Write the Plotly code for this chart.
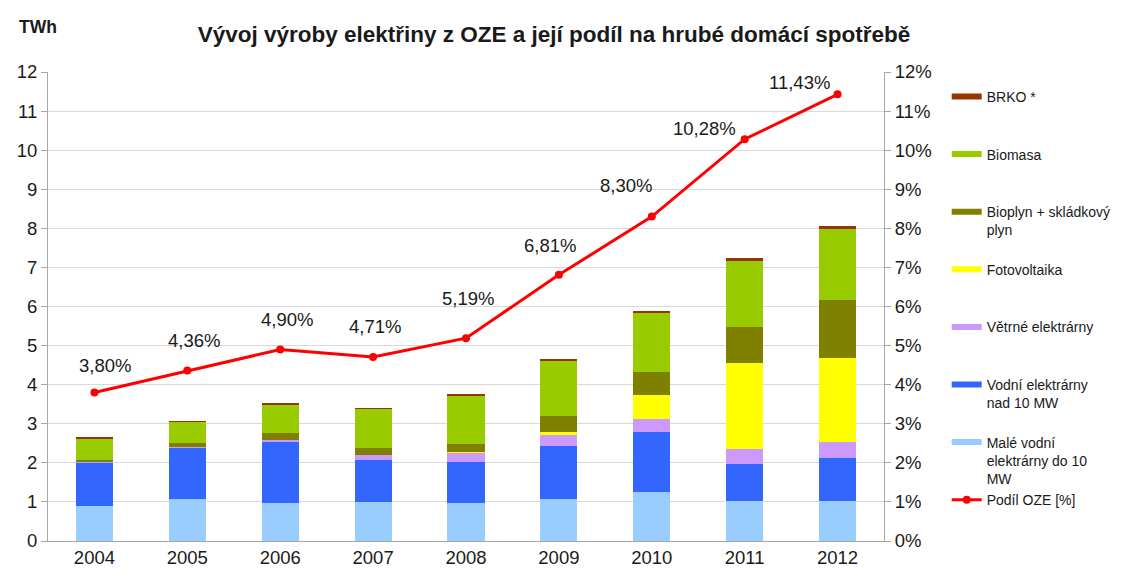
import plotly.graph_objects as go

# ---------------------------------------------------------------------------
# Data (TWh)
# ---------------------------------------------------------------------------
years = ["2004", "2005", "2006", "2007", "2008", "2009", "2010", "2011", "2012"]

male_vodni = [0.90, 1.07, 0.96, 1.00, 0.96, 1.07, 1.25, 1.02, 1.03]
vodni_nad10 = [1.12, 1.32, 1.58, 1.07, 1.06, 1.36, 1.53, 0.95, 1.10]
vetrne = [0.01, 0.02, 0.05, 0.13, 0.25, 0.27, 0.34, 0.38, 0.40]
fotovoltaika = [0.00, 0.00, 0.00, 0.00, 0.01, 0.09, 0.62, 2.20, 2.16]
bioplyn = [0.05, 0.09, 0.18, 0.18, 0.21, 0.41, 0.59, 0.93, 1.47]
biomasa = [0.55, 0.56, 0.73, 1.00, 1.24, 1.43, 1.51, 1.68, 1.82]
brko = [0.01, 0.01, 0.01, 0.01, 0.01, 0.02, 0.05, 0.08, 0.08]

podil_oze = [3.80, 4.36, 4.90, 4.71, 5.19, 6.81, 8.30, 10.28, 11.43]

# label offsets (px) for the percentage labels, as placed in the original
label_dx = [11, 7, 7, 2, 2, -9, -26, -40, -38]
label_dy = [27, 30, 30, 30, 40, 29, 31, 11, 12]

FONT = "Liberation Sans, Arial, sans-serif"
TXT = "#1a1a1a"

series = [
    ("Malé vodní<br>elektrárny do 10<br>MW", male_vodni, "#99CCFF"),
    ("Vodní elektrárny<br>nad 10 MW<br> ", vodni_nad10, "#3366FF"),
    ("Větrné elektrárny<br> <br> ", vetrne, "#CC99FF"),
    ("Fotovoltaika<br> <br> ", fotovoltaika, "#FFFF00"),
    ("Bioplyn + skládkový<br>plyn<br> ", bioplyn, "#808000"),
    ("Biomasa<br> <br> ", biomasa, "#99CC00"),
    ("BRKO *<br> <br> ", brko, "#993300"),
]

fig = go.Figure()

n = len(series)
for i, (name, vals, color) in enumerate(series):
    fig.add_trace(go.Bar(
        x=years, y=vals, name=name, marker_color=color,
        marker_line_width=0, showlegend=False, yaxis="y",
    ))
    # legend entry drawn as a thick line, like the original
    fig.add_trace(go.Scatter(
        x=[None], y=[None], mode="lines", name=name,
        line=dict(color=color, width=6), legendrank=n - i,
    ))

fig.add_trace(go.Scatter(
    x=years, y=podil_oze, name="Podíl OZE [%]", yaxis="y2",
    mode="lines+markers", line=dict(color="#FF0000", width=3),
    marker=dict(size=8, color="#FF0000"), legendrank=n + 1,
))

# category axis: annotations take the category's serial number
for idx, (v, dx, dy) in enumerate(zip(podil_oze, label_dx, label_dy)):
    fig.add_annotation(
        x=idx, y=v, yref="y2", text=f"{v:.2f}".replace(".", ",") + "%",
        showarrow=False, xshift=dx, yshift=dy,
        font=dict(family=FONT, size=18.5, color=TXT),
    )

fig.add_annotation(
    xref="paper", yref="paper", x=-0.012, y=1.095, xanchor="center",
    yanchor="middle", text="<b>TWh</b>", showarrow=False,
    font=dict(family=FONT, size=17.5, color=TXT),
)

axis_common = dict(
    range=[0, 12], dtick=1, showline=True, linecolor="#A6A6A6", linewidth=1,
    ticks="outside", ticklen=6, tickcolor="#A6A6A6",
    tickfont=dict(family=FONT, size=18.5, color=TXT), zeroline=False,
)

fig.update_layout(
    width=1130, height=570,
    paper_bgcolor="white", plot_bgcolor="white",
    margin=dict(l=48, r=246, t=72, b=29, autoexpand=False),
    barmode="stack", bargap=0.6,
    title=dict(
        text="<b>Vývoj výroby elektřiny z OZE a její podíl na hrubé domácí spotřebě</b>",
        x=554 / 1130, xanchor="center", y=1 - 34 / 570, yanchor="middle",
        font=dict(family=FONT, size=22.5, color=TXT),
    ),
    xaxis=dict(
        type="category", range=[-0.5, len(years) - 0.5],
        showline=True, linecolor="#A6A6A6", ticks="",
        tickfont=dict(family=FONT, size=18.5, color=TXT),
    ),
    yaxis=dict(**axis_common, showgrid=True, gridcolor="#D9D9D9"),
    yaxis2=dict(**axis_common, overlaying="y", side="right",
                showgrid=False, ticksuffix="%"),
    legend=dict(
        x=1.075, y=0.981, xanchor="left", yanchor="top",
        traceorder="normal", valign="top", itemwidth=30,
        font=dict(family=FONT, size=14, color=TXT),
    ),
    separators=", ",
)

fig.write_html(
    "out.html",
    config={"displayModeBar": False},
    post_script="document.body.style.margin='0';",
)
